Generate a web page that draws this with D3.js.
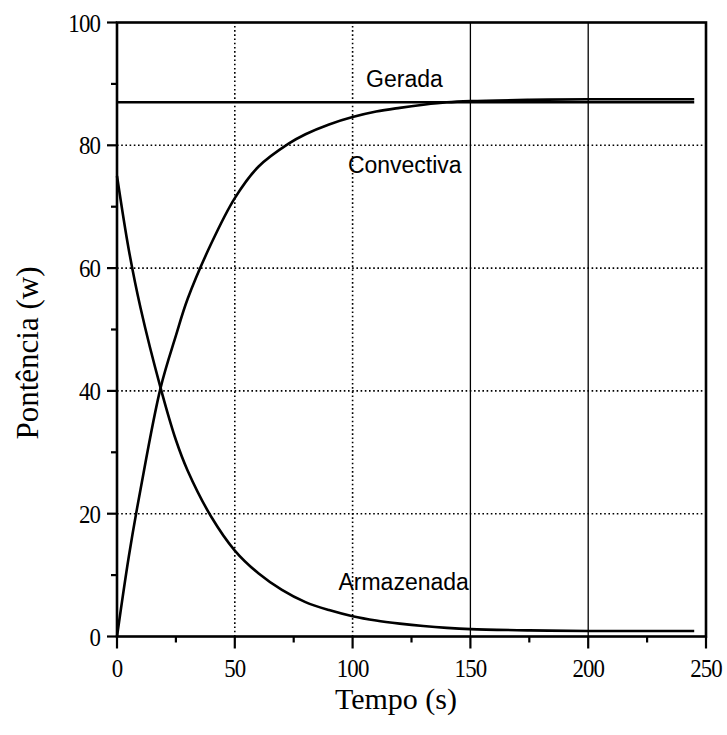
<!DOCTYPE html>
<html>
<head>
<meta charset="utf-8">
<script src="https://cdn.jsdelivr.net/npm/d3@7"></script>
<style>
  html, body { margin: 0; padding: 0; background: #fff; }
</style>
</head>
<body>
<svg id="chart" width="727" height="735"></svg>
<script>
// ---- Data ----
const timeConv = [0, 5, 10, 18.5, 25, 30, 40, 50, 60, 73, 80, 90, 100, 110, 120, 130, 140, 150, 175, 200, 245];
const convectiva = [0, 13, 24, 40.5, 49, 55, 64, 71.4, 76.5, 80.3, 81.8, 83.4, 84.6, 85.5, 86.1, 86.6, 87, 87.2, 87.4, 87.5, 87.5];
const timeArm = [0, 5, 10, 18.5, 25, 30, 40, 50, 60, 70, 80, 90, 100, 110, 120, 130, 140, 150, 175, 200, 245];
const armazenada = [75, 63, 53.5, 40.5, 32, 27, 19.5, 14, 10.3, 7.6, 5.6, 4.3, 3.3, 2.6, 2.1, 1.7, 1.4, 1.2, 1.0, 0.9, 0.9];
const timeGer = [0, 245];
const gerada = [87, 87];
const xMajorTicks = [0, 50, 100, 150, 200, 250];
const xMinorTicks = [25, 75, 125, 175, 225];
const yMajorTicks = [0, 20, 40, 60, 80, 100];
const yMinorTicks = [10, 30, 50, 70, 90];
const xGridDotted = [50, 100];
const xGridSolid = [150, 200];
const yGridDotted = [20, 40, 60, 80];
const seriesLabels = [
  {name: "Gerada", t: 122, v: 89.5, anchor: "middle"},
  {name: "Convectiva", t: 98, v: 75.5, anchor: "start"},
  {name: "Armazenada", t: 94, v: 7.5, anchor: "start"}
];
const xTitle = "Tempo (s)";
const yTitle = "Pontência (w)";

// ---- Drawing ----
const svg = d3.select("#chart");
const x = d3.scaleLinear().domain([0, 250]).range([117, 706]);
const y = d3.scaleLinear().domain([0, 100]).range([636.5, 22.5]);
const serif = "Liberation Serif, Times New Roman, serif";
const sans = "Liberation Sans, Arial, Helvetica, sans-serif";

// gridlines
const g = svg.append("g");
g.selectAll(".hg").data(yGridDotted).join("line")
  .attr("x1", x(0)).attr("x2", x(250)).attr("y1", d => y(d)).attr("y2", d => y(d))
  .attr("stroke", "#000").attr("stroke-width", 1.6).attr("stroke-dasharray", "1.6,2.6");
g.selectAll(".vgd").data(xGridDotted).join("line")
  .attr("x1", d => x(d)).attr("x2", d => x(d)).attr("y1", y(0)).attr("y2", y(100))
  .attr("stroke", "#000").attr("stroke-width", 1.6).attr("stroke-dasharray", "1.6,2.6");
g.selectAll(".vgs").data(xGridSolid).join("line")
  .attr("x1", d => x(d)).attr("x2", d => x(d)).attr("y1", y(0)).attr("y2", y(100))
  .attr("stroke", "#000").attr("stroke-width", 1.3);

// ticks (outward)
const tk = svg.append("g").attr("stroke", "#000").attr("stroke-width", 2.2);
tk.selectAll(".xmaj").data(xMajorTicks).join("line")
  .attr("x1", d => x(d)).attr("x2", d => x(d)).attr("y1", y(0)).attr("y2", y(0) + 12);
tk.selectAll(".xmin").data(xMinorTicks).join("line")
  .attr("x1", d => x(d)).attr("x2", d => x(d)).attr("y1", y(0)).attr("y2", y(0) + 6);
tk.selectAll(".ymaj").data(yMajorTicks).join("line")
  .attr("y1", d => y(d)).attr("y2", d => y(d)).attr("x1", x(0)).attr("x2", x(0) - 10);
tk.selectAll(".ymin").data(yMinorTicks).join("line")
  .attr("y1", d => y(d)).attr("y2", d => y(d)).attr("x1", x(0)).attr("x2", x(0) - 6);

// tick labels (condensed serif, as in the scan)
const fmt = d3.format("d");
svg.selectAll(".xl").data(xMajorTicks).join("text")
  .attr("transform", d => `translate(${x(d)},${y(0) + 40}) scale(0.88,1)`).attr("text-anchor", "middle")
  .attr("font-family", serif).attr("font-size", 26).attr("letter-spacing", -1).attr("fill", "#000")
  .text(d => fmt(d));
svg.selectAll(".yl").data(yMajorTicks).join("text")
  .attr("transform", d => `translate(${x(0) - 17},${y(d) + 9}) scale(0.88,1)`).attr("text-anchor", "end")
  .attr("font-family", serif).attr("font-size", 26).attr("letter-spacing", -1).attr("fill", "#000")
  .text(d => fmt(d));

// frame
svg.append("rect").attr("x", x(0)).attr("y", y(100)).attr("width", x(250) - x(0)).attr("height", y(0) - y(100))
  .attr("fill", "none").attr("stroke", "#000").attr("stroke-width", 2.6);

// curves
const line = d3.line().x(d => x(d[0])).y(d => y(d[1])).curve(d3.curveCatmullRom.alpha(0.5));
function draw(ts, vs) {
  svg.append("path").datum(ts.map((t, i) => [t, vs[i]])).attr("d", line)
    .attr("fill", "none").attr("stroke", "#000").attr("stroke-width", 2.6).attr("stroke-linejoin", "round");
}
draw(timeGer, gerada);
draw(timeConv, convectiva);
draw(timeArm, armazenada);

// series labels
svg.selectAll(".slab").data(seriesLabels).join("text")
  .attr("x", d => x(d.t)).attr("y", d => y(d.v)).attr("text-anchor", d => d.anchor)
  .attr("font-family", sans).attr("font-size", 23).attr("fill", "#000")
  .text(d => d.name);

// axis titles
svg.append("text").attr("x", 396).attr("y", 709).attr("text-anchor", "middle")
  .attr("font-family", serif).attr("font-size", 30).attr("fill", "#000").text(xTitle);
svg.append("text").attr("transform", "translate(38,353) rotate(-90)").attr("text-anchor", "middle")
  .attr("font-family", serif).attr("font-size", 31).attr("fill", "#000").text(yTitle);
</script>
</body>
</html>
